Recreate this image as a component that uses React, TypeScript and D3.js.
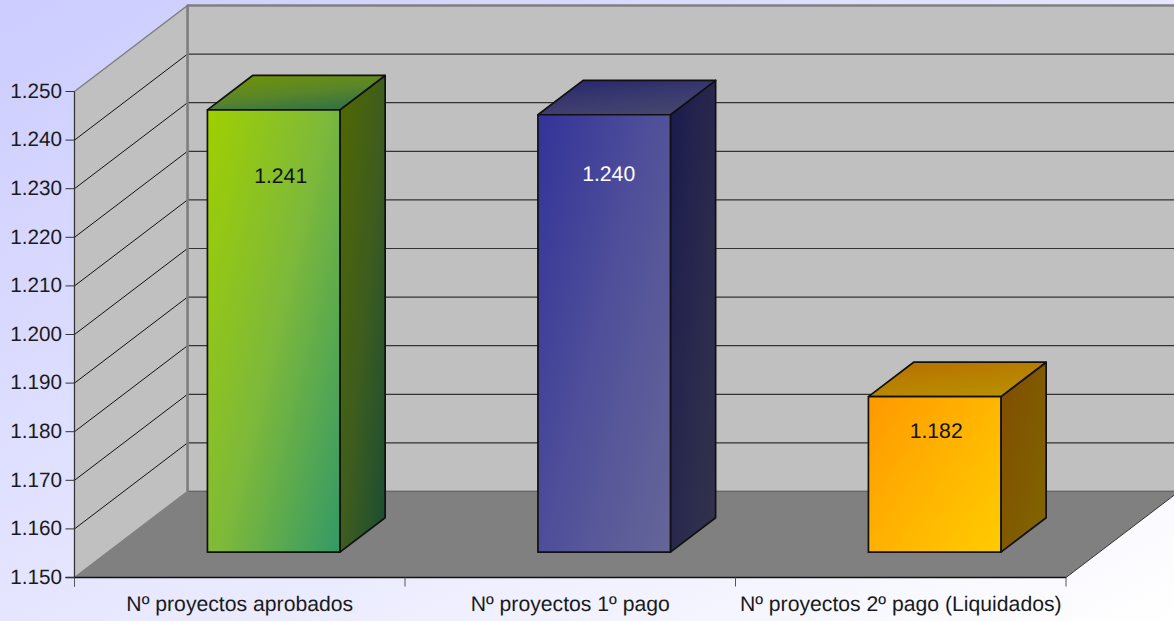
import React from "react";
import * as d3 from "d3";

const categories = ["Nº proyectos aprobados", "Nº proyectos 1º pago", "Nº proyectos 2º pago (Liquidados)"];
const values = [1241, 1240, 1182];
const valueLabels = ["1.241", "1.240", "1.182"];
const ticks = [1150, 1160, 1170, 1180, 1190, 1200, 1210, 1220, 1230, 1240, 1250];
const tickLabels = ["1.150", "1.160", "1.170", "1.180", "1.190", "1.200", "1.210", "1.220", "1.230", "1.240", "1.250"];

// styling / layout, kept apart from the data
const labelColors = ["#111111", "#ffffff", "#111111"];
const labelDy = [73.5, 66, 41.2];
const labelDx = [7, 4.5, 1.5];
const gradStart = ["#9fd000", "#333399", "#ff9900"];
const gradMid = ["#7eb93a", "#50509a", "#ffb400"];
const gradEnd = ["#339966", "#666699", "#ffcc00"];

const W = 1174, H = 621;
const y = d3.scaleLinear().domain([1150, 1250]).range([577.5, 91.5]);
const x = d3.scaleBand<string>().domain(categories).range([74.5, 1066]);
const DX = 113, DY = -86;
const font = "'Liberation Sans', Arial, sans-serif";
const textCol = "#1a1a1a";

function poly(pts: [number, number][]) {
  return pts.map((p) => p.join(",")).join(" ");
}
function dark(c: string, k: number) {
  const r = d3.rgb(c);
  return d3.rgb(r.r * k, r.g * k, r.b * k).formatHex();
}
function stops(i: number, k: number) {
  return (
    <>
      <stop offset="0" stopColor={dark(gradStart[i], k)} />
      <stop offset="0.5" stopColor={dark(gradMid[i], k)} />
      <stop offset="1" stopColor={dark(gradEnd[i], k)} />
    </>
  );
}

export default function App() {
  const x0 = x.range()[0], x1 = x.range()[1];
  const yB = y(1150), yT = y(1250);
  const d0 = 0.295, d1 = 0.695;
  return (
    <svg width={W} height={H} viewBox={`0 0 ${W} ${H}`} textRendering="geometricPrecision" style={{ position: "absolute", left: 0, top: 0, display: "block" }}>
      <defs>
        <linearGradient id="bg" x1="0" y1="0" x2="1" y2="1">
          <stop offset="0" stopColor="#ccccff" />
          <stop offset="1" stopColor="#ffffff" />
        </linearGradient>
        {categories.map((_, i) => (
          <React.Fragment key={i}>
            <linearGradient id={`f${i}`} x1="0" y1="0" x2="1.09" y2="0.89">{stops(i, 1)}</linearGradient>
            <linearGradient id={`s${i}`} x1="0" y1="0" x2="1" y2="1">{stops(i, 0.5)}</linearGradient>
            <linearGradient id={`t${i}`} x1="0" y1="0" x2="0.64" y2="1.19">{stops(i, 0.72)}</linearGradient>
          </React.Fragment>
        ))}
      </defs>
      <rect x={0} y={0} width={W} height={H} fill="url(#bg)" />
      <polygon points={poly([[x0 + DX, yT + DY], [x1 + DX, yT + DY], [x1 + DX, yB + DY], [x0 + DX, yB + DY]])} fill="#c0c0c0" stroke="#808080" strokeWidth={2} />
      <polygon points={poly([[x0, yT], [x0 + DX, yT + DY], [x0 + DX, yB + DY], [x0, yB]])} fill="#c0c0c0" stroke="#808080" strokeWidth={1.5} />
      <polygon points={poly([[x0, yB], [x0 + DX, yB + DY], [x1 + DX, yB + DY], [x1, yB]])} fill="#808080" />
      <line x1={x0 + DX} y1={yB + DY} x2={x1 + DX} y2={yB + DY} stroke="#666" strokeWidth={1} />
      <line x1={x1} y1={yB} x2={x1 + DX} y2={yB + DY} stroke="#333" strokeWidth={1} />
      {ticks.slice(1).map((t) => (
        <g key={t}>
          {t < 1250 && <line x1={x0} y1={y(t)} x2={x0 + DX} y2={y(t) + DY} stroke="#111" strokeWidth={1} />}
          <line x1={x0 + DX} y1={y(t) + DY} x2={x1 + DX} y2={y(t) + DY} stroke="#333" strokeWidth={1.2} />
        </g>
      ))}
      <line x1={x0 + DX} y1={yT + DY} x2={x1 + DX} y2={yT + DY} stroke="#808080" strokeWidth={2} />
      <line x1={x0 + DX} y1={yT + DY} x2={x0 + DX} y2={yB + DY} stroke="#808080" strokeWidth={2.5} />
      <line x1={x0} y1={yT} x2={x0} y2={yB + 9} stroke="#333" strokeWidth={1} />
      <line x1={x0 - 9} y1={yB} x2={x1} y2={yB} stroke="#111" strokeWidth={1.5} />
      {ticks.map((t, i) => (
        <g key={t}>
          <line x1={x0 - 9} y1={y(t)} x2={x0} y2={y(t)} stroke="#333" strokeWidth={1} />
          <text x={62} y={y(t) + 6.3} textAnchor="end" fontFamily={font} fontSize={20.7} fill={textCol}>{tickLabels[i]}</text>
        </g>
      ))}
      {[...categories.map((c) => x(c)!), x1].map((px, i) => (
        <line key={i} x1={px} y1={yB} x2={px} y2={yB + 9} stroke="#555" strokeWidth={1} />
      ))}
      {categories.map((c) => (
        <text key={c} x={x(c)! + x.bandwidth() / 2} y={610.5} textAnchor="middle" fontFamily={font} fontSize={21.2} fill={textCol}>{c}</text>
      ))}
      {categories.map((c, i) => {
        const w = 132.5;
        const left = x(c)! + (x.bandwidth() - w) / 2 + DX * d0 + 0.6;
        const right = left + w;
        const off0 = DY * d0, off = DY * (d1 - d0), ox = DX * (d1 - d0);
        const top = y(values[i]) + off0;
        const bot = yB + off0;
        return (
          <g key={c} stroke="#111" strokeWidth={1.7} strokeLinejoin="round">
            <polygon points={poly([[right, top], [right + ox, top + off], [right + ox, bot + off], [right, bot]])} fill={`url(#s${i})`} />
            <polygon points={poly([[left, top], [left + ox, top + off], [right + ox, top + off], [right, top]])} fill={`url(#t${i})`} />
            <rect x={left} y={top} width={w} height={bot - top} fill={`url(#f${i})`} />
            <text x={left + w / 2 + labelDx[i]} y={top + labelDy[i]} textAnchor="middle" fontFamily={font} fontSize={21.2} fill={labelColors[i]} stroke="none">{valueLabels[i]}</text>
          </g>
        );
      })}
    </svg>
  );
}
